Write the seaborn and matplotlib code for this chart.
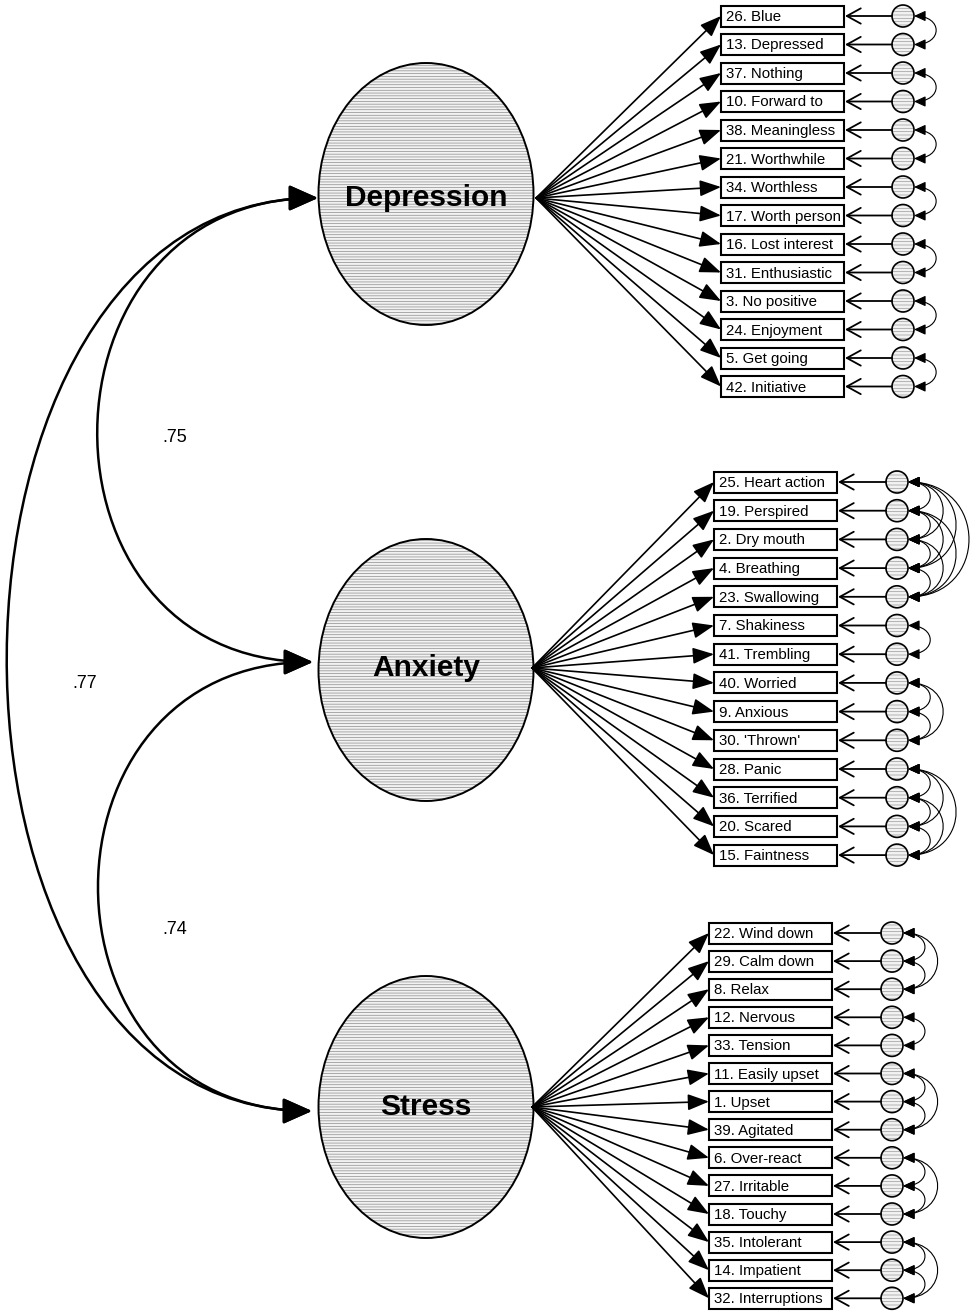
import numpy as np
import pandas as pd
import seaborn as sns
import matplotlib.pyplot as plt
from matplotlib.patches import Ellipse, Circle, Rectangle, FancyArrowPatch
from matplotlib.path import Path

sns.set_style('white')
plt.rcParams['font.family'] = ['Liberation Sans', 'DejaVu Sans']
plt.rcParams['text.color'] = 'black'
plt.rcParams['hatch.linewidth'] = 0.5

# latent factors and their items (top to bottom)
factors = ['Depression', 'Anxiety', 'Stress']
depression_items = ['26. Blue', '13. Depressed', '37. Nothing', '10. Forward to',
                    '38. Meaningless', '21. Worthwhile', '34. Worthless',
                    '17. Worth person', '16. Lost interest', '31. Enthusiastic',
                    '3. No positive', '24. Enjoyment', '5. Get going', '42. Initiative']
anxiety_items = ['25. Heart action', '19. Perspired', '2. Dry mouth', '4. Breathing',
                 '23. Swallowing', '7. Shakiness', '41. Trembling', '40. Worried',
                 '9. Anxious', "30. 'Thrown'", '28. Panic', '36. Terrified',
                 '20. Scared', '15. Faintness']
stress_items = ['22. Wind down', '29. Calm down', '8. Relax', '12. Nervous',
                '33. Tension', '11. Easily upset', '1. Upset', '39. Agitated',
                '6. Over-react', '27. Irritable', '18. Touchy', '35. Intolerant',
                '14. Impatient', '32. Interruptions']

# factor correlations
factor_pairs = [(0, 1), (0, 2), (1, 2)]
factor_corr = [.75, .77, .74]

# correlated error terms (item index pairs within each factor)
depression_err = [(0, 1), (2, 3), (4, 5), (6, 7), (8, 9), (10, 11), (12, 13)]
anxiety_err = [(0, 1), (0, 2), (0, 3), (0, 4), (1, 2), (1, 3), (1, 4), (2, 3), (2, 4), (3, 4),
               (5, 6), (7, 8), (8, 9), (7, 9),
               (10, 11), (10, 12), (10, 13), (11, 12), (11, 13), (12, 13)]
stress_err = [(0, 1), (1, 2), (0, 2), (3, 4), (5, 6), (6, 7), (5, 7),
              (8, 9), (9, 10), (8, 10), (11, 12), (12, 13), (11, 13)]

items = [depression_items, anxiety_items, stress_items]
errs = [depression_err, anxiety_err, stress_err]

# layout (pixel space)
ell_cy = [194, 670, 1107]
label_cy = [198, 668, 1107]
ell_cx, ell_w, ell_h = 426, 215, 262
src_x = [536, 532, 532]
tip_left = [(318, 198), (313, 662), (312, 1111)]
box_x = [721, 714, 709]
box_y0 = [16, 482, 933]
box_dy = [28.5, 28.7, 28.1]
box_w, box_h = 123, 21
err_x = [903, 897, 892]
err_r = 11
corr_label_pos = [(175, 437), (85, 683), (175, 930)]
corr_bulge = [290, 410, 285]


def cubic(p0, p1, k):
    verts = [p0, (p0[0] + k, p0[1]), (p1[0] + k, p1[1]), p1]
    return Path(verts, [Path.MOVETO, Path.CURVE4, Path.CURVE4, Path.CURVE4])


fig = plt.figure(figsize=(9.73, 13.11), dpi=100)
ax = fig.add_axes([0, 0, 1, 1])
ax.set_xlim(0, 973)
ax.set_ylim(1311, 0)
ax.axis('off')

for f, name in enumerate(factors):
    # latent ellipse with stipple texture
    ax.add_patch(Ellipse((ell_cx, ell_cy[f]), ell_w, ell_h, facecolor='#f2f2f2',
                         edgecolor='#8c8c8c', hatch='------', lw=0, zorder=1))
    ax.add_patch(Ellipse((ell_cx, ell_cy[f]), ell_w, ell_h, fill=False,
                         edgecolor='black', lw=1.4, zorder=2))
    ax.text(ell_cx, label_cy[f], name, ha='center', va='center', fontsize=21.5,
            fontweight='bold', color='black', zorder=3)

    ys = [box_y0[f] + i * box_dy[f] for i in range(len(items[f]))]
    for i, lab in enumerate(items[f]):
        y = ys[i]
        # loading arrow
        ax.add_patch(FancyArrowPatch((src_x[f], label_cy[f]), (box_x[f], y),
                                     arrowstyle='-|>,head_length=1.3,head_width=0.5',
                                     mutation_scale=10, shrinkA=0, shrinkB=0,
                                     lw=1.2, color='black', zorder=2))
        ax.add_patch(Rectangle((box_x[f], y - box_h / 2), box_w, box_h,
                               facecolor='white', edgecolor='black', lw=1.5, zorder=3))
        ax.text(box_x[f] + 5, y + 1, lab, ha='left', va='center', fontsize=10.8,
                color='black', zorder=4)
        # error term
        ax.add_patch(Circle((err_x[f], y), err_r, facecolor='#f2f2f2',
                            edgecolor='#9a9a9a', hatch='-----', lw=0, zorder=2))
        ax.add_patch(Circle((err_x[f], y), err_r, fill=False,
                            edgecolor='black', lw=1.2, zorder=3))
        ax.add_patch(FancyArrowPatch((err_x[f] - err_r, y), (box_x[f] + box_w + 1, y),
                                     arrowstyle='->,head_length=1.0,head_width=0.55',
                                     mutation_scale=10, shrinkA=0, shrinkB=0,
                                     lw=1.3, color='black', zorder=2))

    # correlated errors
    for a, b in errs[f]:
        dist = abs(ys[b] - ys[a])
        k = 12 + 0.6 * dist
        p = cubic((err_x[f] + err_r, ys[a]), (err_x[f] + err_r, ys[b]), k)
        ax.add_patch(FancyArrowPatch(path=p,
                                     arrowstyle='<|-|>,head_length=0.7,head_width=0.32',
                                     mutation_scale=10, lw=0.8, color='black', zorder=2))

# factor correlations
for (a, b), r, pos, k in zip(factor_pairs, factor_corr, corr_label_pos, corr_bulge):
    p = cubic(tip_left[a], tip_left[b], -k)
    ax.add_patch(FancyArrowPatch(path=p,
                                 arrowstyle='<|-|>,head_length=1.8,head_width=0.8',
                                 mutation_scale=10, lw=1.8, color='black', zorder=2))
    ax.text(pos[0], pos[1], f'{r:.2f}'.lstrip('0'), ha='center', va='center',
            fontsize=13, color='black')

fig.savefig('out.png', dpi=100)
